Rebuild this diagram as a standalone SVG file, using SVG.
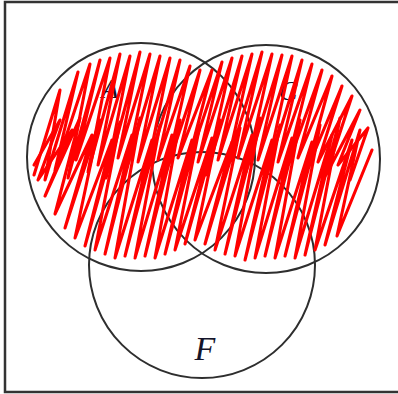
<svg xmlns="http://www.w3.org/2000/svg" width="398" height="394" viewBox="0 0 398 394">
<style>
.ring{fill:none;stroke:#2e2e2e;stroke-width:2}
.lbl{font-family:"Liberation Serif","Times New Roman",serif;font-style:italic;fill:#14142a;text-anchor:middle}
.scr{fill:none;stroke:#ff0000;stroke-width:3.1;stroke-linejoin:round;stroke-linecap:round}
.frame{fill:none;stroke:#333;stroke-width:2.5}
</style>
<rect width="398" height="394" fill="#fff"/>
<path class="frame" d="M400,2 H5 V392 H400"/>
<g id="A">
<circle class="ring" cx="141" cy="157" r="114"/>
<text class="lbl" x="110" y="98" font-size="28">A</text>
</g>
<g id="C">
<circle class="ring" cx="266" cy="159" r="114"/>
<text class="lbl" x="288" y="100" font-size="28">C</text>
</g>
<g id="F">
<circle class="ring" cx="202" cy="265" r="113"/>
<text class="lbl" x="205" y="360" font-size="34">F</text>
</g>
<g id="scribble">
<path class="scr" d="M34,175 L60,90 L45,180 L78,72 L55,170 L90,64 L68,178 L100,60 L76,160 L110,58 L88,172 L120,54 L98,165 L130,56 L106,178 L140,52 L118,158 L150,54 L126,170 L160,56 L138,162 L170,58 L146,175 L180,60 L158,160 L190,66 L166,172 L200,70 L178,158 L212,70 L186,170 L222,62 L198,162 L232,58 L206,175 L242,56 L218,160 L252,54 L226,170 L262,52 L238,158 L272,54 L246,172 L282,55 L258,160 L292,56 L266,175 L302,60 L278,162 L312,64 L286,170 L322,70 L298,158 L332,76 L306,172 L342,86 L318,162 L352,96 L326,175 L360,110 L338,165 L368,128 L350,180"/>
<path class="scr" d="M372,150 L337,236 L360,130 L325,245 L352,140 L315,250 L340,118 L305,255 L332,135 L295,258 L320,125 L285,256 L312,142 L275,258 L300,120 L265,256 L292,138 L255,258 L280,125 L245,260 L272,140 L235,256 L260,118 L225,254 L252,135 L215,250 L240,128 L205,244 L232,142 L195,240 L220,120 L185,244 L212,138 L175,250 L200,125 L165,254 L192,140 L155,258 L180,120 L145,256 L172,135 L135,258 L160,125 L125,256 L152,140 L115,258 L140,118 L105,254 L132,135 L95,250 L120,122 L85,246 L112,140 L75,238 L100,120 L65,228 L92,135 L55,214 L80,118 L45,196 L72,130 L38,180 L60,120 L34,165"/>
</g>
</svg>
